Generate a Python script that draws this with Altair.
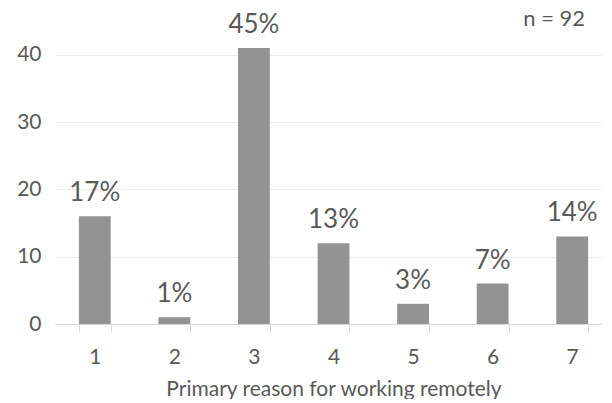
import altair as alt
import pandas as pd

categories = ["1", "2", "3", "4", "5", "6", "7"]
counts = [16, 1, 41, 12, 3, 6, 13]
pct_labels = ["17%", "1%", "45%", "13%", "3%", "7%", "14%"]
y_ticks = [0, 10, 20, 30, 40]
x_title = "Primary reason for working remotely"
note = "n = 92"

df = pd.DataFrame({"reason": categories, "count": counts, "label": pct_labels})
note_df = pd.DataFrame({"reason": ["7"], "count": [45], "label": [note]})

FONT = "Lato"
GREY = "#595959"

x_enc = alt.X(
    "reason:N",
    sort=categories,
    scale=alt.Scale(paddingInner=0.6, paddingOuter=0.3),
    axis=alt.Axis(
        title=x_title, labelAngle=0, tickBand="extent", grid=False,
        domain=True, domainColor="#d9d9d9", tickColor="#d9d9d9", tickSize=8,
        labelPadding=14, titlePadding=11,
        labelFontSize=21, titleFontSize=21, labelColor=GREY, titleColor=GREY,
        labelFont=FONT, titleFont=FONT, titleFontWeight="normal",
    ),
)
y_enc = alt.Y(
    "count:Q",
    scale=alt.Scale(domain=[0, 45], nice=False),
    axis=alt.Axis(
        title=None, values=y_ticks, domain=False, ticks=False,
        grid=True, gridColor="#ececec", labelPadding=14,
        labelFontSize=21, labelColor=GREY, labelFont=FONT,
        minExtent=47, maxExtent=47,
    ),
)

base = alt.Chart(df).encode(x=x_enc, y=y_enc)
bars = base.mark_bar(color="#939393")
texts = base.mark_text(
    font=FONT, fontSize=26, color=GREY, baseline="alphabetic", dy=-15
).encode(text="label:N")

note_mark = alt.Chart(note_df).mark_text(
    font=FONT, fontSize=22, color=GREY, baseline="middle", dx=-18, dy=-2
).encode(x=x_enc, y=y_enc, text="label:N")

chart = (
    alt.layer(bars, texts, note_mark)
    .properties(width=557, height=303, background="white",
                padding={"left": 0, "top": 0, "right": -10, "bottom": 0})
    .configure_view(strokeWidth=0, stroke="transparent")
)

chart.save("out.html", embed_options={"renderer": "svg", "actions": False})
